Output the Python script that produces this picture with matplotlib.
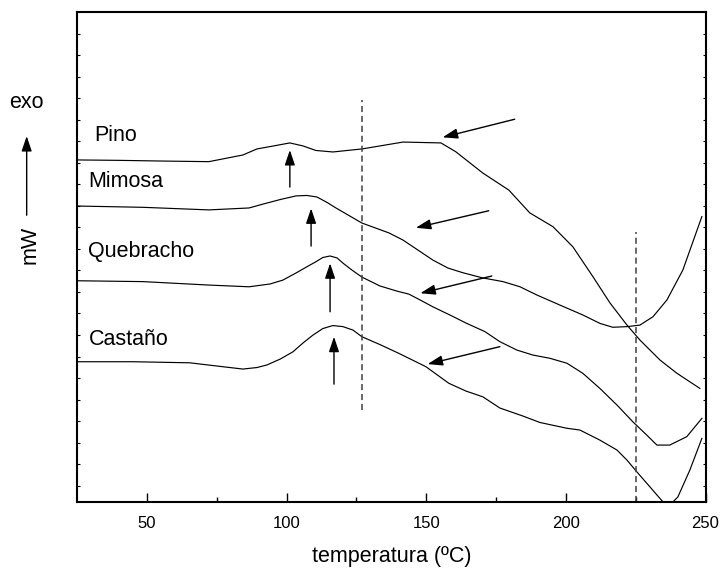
import numpy as np
import matplotlib
matplotlib.use('Agg')
import matplotlib.pyplot as plt
from matplotlib.patches import FancyArrowPatch

plt.rcParams['font.family'] = ['Liberation Sans', 'DejaVu Sans']

# DSC traces (temperature in ºC, heat flow in arbitrary mW units, exo up)
pino_t = [25.0, 40.4, 54.7, 72.2, 84.4, 89.4, 94.1, 101.2, 105.9, 110.5, 116.6, 127.0, 141.7,
          155.3, 160.6, 170.3, 179.6, 187.1, 195.4, 202.5, 209.7, 215.8, 221.9, 226.5,
          233.7, 239.7, 248.0]
pino_y = [15.13, 15.11, 15.08, 15.05, 15.36, 15.64, 15.75, 15.92, 15.78, 15.57, 15.50, 15.64, 15.96,
          15.92, 15.51, 14.52, 13.73, 12.67, 12.03, 11.10, 9.71, 8.49, 7.46, 6.77,
          5.84, 5.23, 4.52]

mimosa_t = [25.0, 48.6, 72.2, 86.6, 91.6, 97.7, 103.4, 107.3, 110.9, 114.6, 117.7, 127.0, 136.7,
            141.7, 147.0, 152.4, 157.8, 163.2, 170.3, 177.5, 183.6, 189.6, 197.9, 206.1,
            212.2, 216.8, 221.9, 226.5, 231.2, 236.2, 241.9, 248.7]
mimosa_y = [12.99, 12.93, 12.81, 12.90, 13.08, 13.29, 13.46, 13.48, 13.41, 13.15, 12.90, 12.20, 11.74,
            11.41, 10.95, 10.48, 10.11, 9.89, 9.65, 9.48, 9.24, 8.86, 8.39, 7.93,
            7.54, 7.36, 7.39, 7.46, 7.85, 8.63, 10.02, 12.50]

queb_t = [25.0, 48.6, 72.2, 86.6, 94.1, 98.7, 103.4, 107.3, 110.5, 113.0, 115.6, 118.1,
          120.2, 123.4, 127.0, 133.4, 139.5, 143.8, 147.8, 152.4, 158.5, 164.2, 171.0,
          176.4, 182.5, 188.2, 194.3, 200.4, 206.1, 212.2, 218.3, 224.0, 229.0, 232.6,
          237.2, 243.3, 248.7]
queb_y = [9.52, 9.48, 9.32, 9.24, 9.37, 9.55, 9.88, 10.17, 10.40, 10.60, 10.67, 10.58,
          10.34, 10.02, 9.69, 9.28, 9.04, 8.90, 8.63, 8.31, 7.93, 7.56, 7.16,
          6.69, 6.30, 6.07, 5.92, 5.69, 5.22, 4.52, 3.75, 2.97, 2.35, 1.89,
          1.89, 2.28, 3.13]

cast_t = [25.0, 45.0, 65.4, 75.1, 84.4, 89.4, 93.0, 97.7, 102.3, 105.9, 109.5, 113.0,
          116.6, 120.2, 123.8, 127.0, 133.4, 140.2, 149.9, 158.1, 164.2, 170.3, 176.4,
          184.6, 190.7, 200.4, 205.0, 212.2, 218.3, 221.9, 225.4, 230.1, 233.7, 236.5,
          240.1, 244.4, 248.7]
cast_y = [5.76, 5.76, 5.71, 5.56, 5.42, 5.49, 5.61, 5.88, 6.22, 6.63, 7.00, 7.30,
          7.44, 7.39, 7.23, 6.92, 6.56, 6.15, 5.53, 4.76, 4.40, 4.13, 3.61,
          3.24, 2.94, 2.67, 2.59, 2.12, 1.66, 1.19, 0.65, -0.05, -0.59, -0.99,
          -0.52, 0.73, 2.20]

names = ['Pino', 'Mimosa', 'Quebracho', 'Castaño']
label_pos = [(31.1, 16.01), (29.2, 13.89), (28.8, 10.64), (29.4, 6.54)]

# peak markers: (T, tail y, tip y)
peak_arrows = [(101.2, 13.87, 15.59), (108.8, 11.13, 12.88),
               (115.6, 8.08, 10.33), (117.0, 4.72, 6.92)]
# degradation onset markers: (tail T, tail y, tip T, tip y)
onset_arrows = [(181.7, 17.02, 155.9, 16.18), (172.4, 12.77, 146.3, 11.98),
                (173.5, 9.74, 147.9, 8.94), (176.4, 6.46, 150.5, 5.65)]

# dashed reference temperatures: (T, y from, y to)
vlines = [(127.0, 3.52, 17.91), (225.1, -0.74, 11.80)]

fig = plt.figure(figsize=(7.23, 5.68), dpi=100)
ax = fig.add_axes([0.1065, 0.1167, 0.8693, 0.8622])

for t, y in [(pino_t, pino_y), (mimosa_t, mimosa_y), (queb_t, queb_y), (cast_t, cast_y)]:
    ax.plot(t, y, color='black', lw=0.85, solid_joinstyle='round')

for name, (tx, ty) in zip(names, label_pos):
    ax.text(tx, ty, name, fontsize=15.5, ha='left', va='baseline')

arrow_kw = dict(arrowstyle='-|>,head_length=0.65,head_width=0.22', mutation_scale=14,
                color='black', lw=1.0, shrinkA=0, shrinkB=0)
for x, y0, y1 in peak_arrows:
    ax.annotate('', xy=(x, y1), xytext=(x, y0), arrowprops=arrow_kw)
for x0, y0, x1, y1 in onset_arrows:
    ax.annotate('', xy=(x1, y1), xytext=(x0, y0), arrowprops=arrow_kw)

for x, y0, y1 in vlines:
    ax.plot([x, x], [y0, y1], color='#404040', lw=1.1, linestyle=(0, (4, 2.5)))

ax.set_xlim(25, 250)
ax.set_ylim(-0.74, 22)
ax.set_xticks([50, 100, 150, 200, 250])
ax.set_xticks([75, 125, 175, 225], minor=True)
ax.set_yticks(np.arange(0, 23))
ax.set_yticklabels([])
ax.tick_params(axis='x', which='major', direction='in', length=6.5, width=1.0,
               labelsize=12, pad=10)
ax.tick_params(axis='x', which='minor', direction='in', length=3.6, width=1.0)
ax.tick_params(axis='y', which='major', direction='in', length=2.2, width=0.8, right=True)
for s in ax.spines.values():
    s.set_linewidth(1.5)
ax.set_xlabel('temperatura (ºC)', fontsize=15.5, labelpad=11)

# y axis legend: exo up, heat flow in mW
fig.text(0.0369, 0.8195, 'exo', fontsize=15.5, ha='center', va='center')
fig.add_artist(FancyArrowPatch((0.0369, 0.6162), (0.0369, 0.7653), transform=fig.transFigure,
                               arrowstyle='-|>,head_length=0.65,head_width=0.22',
                               mutation_scale=14, color='black', lw=1.0))
fig.text(0.0415, 0.5687, 'mW', fontsize=15.5, ha='center', va='center', rotation=90)

fig.savefig('out.png', dpi=100)
